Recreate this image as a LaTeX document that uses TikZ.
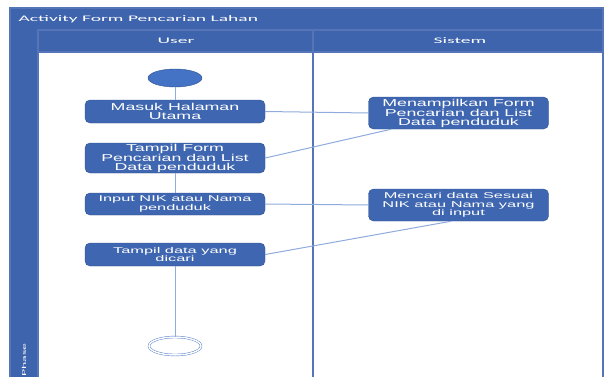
\documentclass[tikz,border=0pt]{standalone}
\usepackage{fontspec}
\newfontfamily\boxfont[FakeStretch=1.78]{Liberation Sans}
\newfontfamily\smallboxfont[FakeStretch=1.95]{Liberation Sans}
\newfontfamily\headfont[FakeStretch=2.3]{Carlito}
\usetikzlibrary{shapes.geometric}
\definecolor{laneblue}{HTML}{3E64AD}
\definecolor{laneline}{HTML}{5575B8}
\definecolor{actblue}{HTML}{3F66B0}
\definecolor{actedge}{HTML}{2F528F}
\definecolor{startblue}{HTML}{4472C4}
\definecolor{flowblue}{HTML}{8FAADC}

\begin{document}
\begin{tikzpicture}[x=1pt,y=-1pt]
  \useasboundingbox (0,0) rectangle (609,377);
  \tikzset{lane/.style={fill=laneblue},
           laneedge/.style={draw=laneline,line width=1.2pt},
           lanetext/.style={text=white,font=\headfont\fontsize{8.5}{9}\selectfont},
           act/.style={draw=actedge,fill=actblue,rounded corners=5pt,text=white,
                        align=center,inner sep=0pt,minimum width=180pt,
                        font=\boxfont\fontsize{10}{8.6}\selectfont},
           actsmall/.style={act,font=\smallboxfont\fontsize{8.4}{8.8}\selectfont},
           flow/.style={draw=flowblue,line width=1pt}}
  % swimlane frame
  \fill[lane] (10,8) rectangle (603,52);
  \fill[lane] (10,52) rectangle (38,377);
  \draw[laneedge] (10,377)--(10,8)--(603,8)--(603,377);
  \draw[laneedge] (38,377)--(38,30)--(603,30);
  \draw[laneedge] (38,52)--(603,52);
  \draw[laneedge] (313,30)--(313,377);
  \node[lanetext,anchor=west] (title) at (15,19) {Activity Form Pencarian Lahan};
  \node[lanetext] (user) at (176,41) {User};
  \node[lanetext] (sistem) at (460,41) {Sistem};
  \node[text=white,rotate=90,anchor=west,font=\headfont\fontsize{6}{6}\selectfont] (phase) at (24,380) {Phase};
  % activities
  \node[ellipse,fill=startblue,draw=actedge,minimum width=54pt,minimum height=18pt,inner sep=0pt] (start) at (175,78) {};
  \node[act,minimum height=23pt] (masuk) at (175,111.5) {Masuk Halaman\\Utama};
  \node[act,minimum height=30pt] (form) at (175,158) {Tampil Form\\Pencarian dan List\\Data penduduk};
  \node[actsmall,minimum height=22pt] (input) at (175,204) {Input NIK atau Nama\\penduduk};
  \node[actsmall,minimum height=23pt] (hasil) at (175,254.5) {Tampil data yang\\dicari};
  \node[ellipse,draw=startblue,double=white,double distance=1.5pt,fill=white,
        minimum width=52pt,minimum height=18pt,inner sep=0pt] (end) at (175,346) {};
  \node[act,minimum height=32pt] (tampilkan) at (458.5,113) {Menampilkan Form\\Pencarian dan List\\Data penduduk};
  \node[actsmall,minimum height=32pt] (cari) at (458.5,205) {Mencari data Sesuai\\NIK atau Nama yang\\di input};
  % connectors
  \draw[flow] (start) -- (masuk);
  \draw[flow] (form) -- (input);
  \draw[flow] (hasil) -- (end);
  \draw[flow] (masuk.east) -- (tampilkan.west);
  \draw[flow] (form.east) -- ([xshift=23pt]tampilkan.south west);
  \draw[flow] (input.east) -- (cari.west);
  \draw[flow] (hasil.east) -- ([xshift=83pt]cari.south west);
\end{tikzpicture}
\end{document}
